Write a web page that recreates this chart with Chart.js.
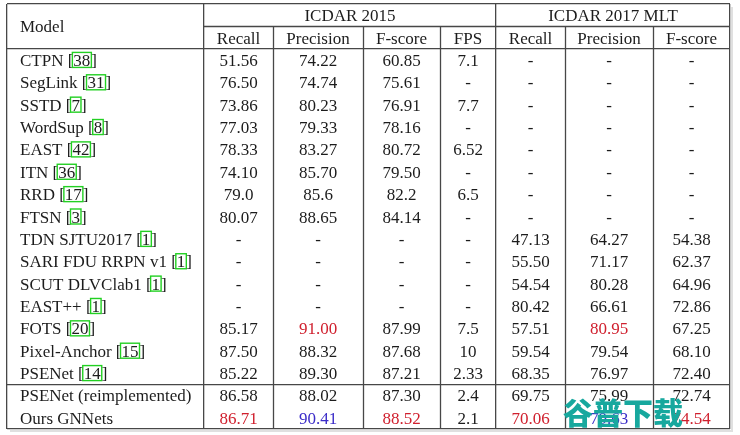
<!DOCTYPE html>
<html>
<head>
<meta charset="utf-8">
<script src="https://cdn.jsdelivr.net/npm/chart.js@4"></script>
<style>
  html, body { margin: 0; padding: 0; background: #fff; }
  canvas { display: block; }
</style>
</head>
<body>
<canvas id="chart" width="740" height="435"></canvas>
<script>
// table data
const models = ['CTPN', 'SegLink', 'SSTD', 'WordSup', 'EAST', 'ITN', 'RRD', 'FTSN',
    'TDN SJTU2017', 'SARI FDU RRPN v1', 'SCUT DLVClab1', 'EAST++', 'FOTS',
    'Pixel-Anchor', 'PSENet', 'PSENet (reimplemented)', 'Ours GNNets'];
const refs = ['38', '31', '7', '8', '42', '36', '17', '3', '1', '1', '1', '1', '20', '15', '14', null, null];

const groupHeaders = ['ICDAR 2015', 'ICDAR 2017 MLT'];
const subHeaders = ['Recall', 'Precision', 'F-score', 'FPS', 'Recall', 'Precision', 'F-score'];

const ic15Recall = ['51.56', '76.50', '73.86', '77.03', '78.33', '74.10', '79.0', '80.07', '-', '-', '-', '-', '85.17', '87.50', '85.22', '86.58', '86.71'];
const ic15Precision = ['74.22', '74.74', '80.23', '79.33', '83.27', '85.70', '85.6', '88.65', '-', '-', '-', '-', '91.00', '88.32', '89.30', '88.02', '90.41'];
const ic15Fscore = ['60.85', '75.61', '76.91', '78.16', '80.72', '79.50', '82.2', '84.14', '-', '-', '-', '-', '87.99', '87.68', '87.21', '87.30', '88.52'];
const ic15Fps = ['7.1', '-', '7.7', '-', '6.52', '-', '6.5', '-', '-', '-', '-', '-', '7.5', '10', '2.33', '2.4', '2.1'];
const mltRecall = ['-', '-', '-', '-', '-', '-', '-', '-', '47.13', '55.50', '54.54', '80.42', '57.51', '59.54', '68.35', '69.75', '70.06'];
const mltPrecision = ['-', '-', '-', '-', '-', '-', '-', '-', '64.27', '71.17', '80.28', '66.61', '80.95', '79.54', '76.97', '75.99', '79.63'];
const mltFscore = ['-', '-', '-', '-', '-', '-', '-', '-', '54.38', '62.37', '64.96', '72.86', '67.25', '68.10', '72.40', '72.74', '74.54'];

// [column, row] of the best and second best results
const firstPlace = [[1, 16], [2, 12], [3, 16], [5, 16], [6, 12], [7, 16]];
const secondPlace = [[2, 16], [6, 16]];

// layout
const colEdges = [0, 197, 266, 356, 433, 489, 558, 646, 723];
const FONT = "17px 'Liberation Serif'";
const TEXT = '#1c1c1c';
const RULE = '#474747';
const RED = '#d0202e';
const BLUE = '#3b2cc8';

const valueCols = [ic15Recall, ic15Precision, ic15Fscore, ic15Fps, mltRecall, mltPrecision, mltFscore];

function cellColor(c, r) {
    if (firstPlace.some(p => p[0] === c && p[1] === r)) return RED;
    if (secondPlace.some(p => p[0] === c && p[1] === r)) return BLUE;
    return TEXT;
}

const datasets = [];
// model column
datasets.push({
    texts: models, refs: refs, align: 'left',
    data: models.map((m, i) => ({ x: colEdges[0] + 13, y: i }))
});
// number columns
valueCols.forEach((vals, c) => {
    const cx = (colEdges[c + 1] + colEdges[c + 2]) / 2;
    datasets.push({
        texts: vals, align: 'center',
        colors: vals.map((v, i) => cellColor(c + 1, i)),
        data: vals.map((v, i) => ({ x: cx, y: i }))
    });
});
// headers
datasets.push({
    texts: ['Model'], align: 'left',
    data: [{ x: colEdges[0] + 13, y: -1.5 }]
});
datasets.push({
    texts: groupHeaders, align: 'center',
    data: [{ x: (colEdges[1] + colEdges[5]) / 2, y: -2 }, { x: (colEdges[5] + colEdges[8]) / 2, y: -2 }]
});
datasets.push({
    texts: subHeaders, align: 'center',
    data: subHeaders.map((h, c) => ({ x: (colEdges[c + 1] + colEdges[c + 2]) / 2, y: -1 }))
});

datasets.forEach(ds => {
    ds.pointRadius = 0;
    ds.pointHoverRadius = 0;
    ds.showLine = false;
});

const tablePlugin = {
    id: 'table',
    beforeDraw(chart) {
        // soft shadow along the right and bottom border
        const { ctx, chartArea: a } = chart;
        ctx.save();
        ctx.strokeStyle = 'rgba(0,0,0,0.12)';
        ctx.lineWidth = 2;
        ctx.beginPath();
        ctx.moveTo(a.right + 2, a.top + 3);
        ctx.lineTo(a.right + 2, a.bottom + 2);
        ctx.lineTo(a.left + 3, a.bottom + 2);
        ctx.stroke();
        ctx.restore();
    },
    afterDraw(chart) {
        const { ctx, scales: { x, y } } = chart;
        ctx.save();

        // partial rules
        ctx.strokeStyle = RULE;
        ctx.lineWidth = 1.3;
        ctx.beginPath();
        const hy = Math.round(y.getPixelForValue(-1.5)) + 0.5;
        ctx.moveTo(x.getPixelForValue(colEdges[1]), hy);
        ctx.lineTo(x.getPixelForValue(colEdges[8]), hy);
        [2, 3, 4, 6, 7].forEach(k => {
            const vx = Math.round(x.getPixelForValue(colEdges[k])) + 0.5;
            ctx.moveTo(vx, hy);
            ctx.lineTo(vx, y.getPixelForValue(16.5));
        });
        ctx.stroke();

        // cell texts
        ctx.font = FONT;
        ctx.textBaseline = 'alphabetic';
        chart.data.datasets.forEach((ds, di) => {
            const meta = chart.getDatasetMeta(di);
            meta.data.forEach((pt, i) => {
                const txt = ds.texts[i];
                const base = pt.y + 6;
                ctx.fillStyle = ds.colors ? ds.colors[i] : TEXT;
                ctx.textAlign = ds.align;
                ctx.fillText(txt, pt.x, base);
                if (ds.refs && ds.refs[i]) {
                    ctx.textAlign = 'left';
                    let px = pt.x + ctx.measureText(txt + ' [').width;
                    ctx.fillText('[', pt.x + ctx.measureText(txt + ' ').width, base);
                    const w = ctx.measureText(ds.refs[i]).width;
                    ctx.fillText(ds.refs[i], px, base);
                    ctx.strokeStyle = '#22d022';
                    ctx.lineWidth = 1.4;
                    ctx.strokeRect(px - 1, base - 13.5, w + 2, 15);
                    ctx.fillStyle = TEXT;
                    ctx.fillText(']', px + w + 1, base);
                }
            });
        });

        // watermark
        ctx.font = "900 30px 'Noto Sans CJK SC'";
        ctx.textAlign = 'left';
        ctx.textBaseline = 'middle';
        ctx.fillStyle = '#17a89e';
        ctx.fillText('谷普下载', 563, 413);
        ctx.restore();
    }
};

new Chart(document.getElementById('chart'), {
    type: 'scatter',
    data: { datasets: datasets },
    options: {
        responsive: false,
        animation: false,
        devicePixelRatio: 1,
        layout: { padding: { left: 7, right: 10, top: 4, bottom: 6 } },
        plugins: { legend: { display: false }, tooltip: { enabled: false } },
        events: [],
        scales: {
            x: {
                type: 'linear', min: 0, max: colEdges[8],
                afterBuildTicks: s => { s.ticks = [0, 1, 5, 8].map(k => ({ value: colEdges[k] })); },
                ticks: { display: false },
                grid: { color: RULE, lineWidth: 1.3, drawTicks: false },
                border: { display: false }
            },
            y: {
                type: 'linear', min: -2.5, max: 16.5, reverse: true,
                afterBuildTicks: s => { s.ticks = [-2.5, -0.5, 14.5, 16.5].map(v => ({ value: v })); },
                ticks: { display: false },
                grid: { color: RULE, lineWidth: 1.3, drawTicks: false },
                border: { display: false }
            }
        }
    },
    plugins: [tablePlugin]
});
</script>
</body>
</html>
